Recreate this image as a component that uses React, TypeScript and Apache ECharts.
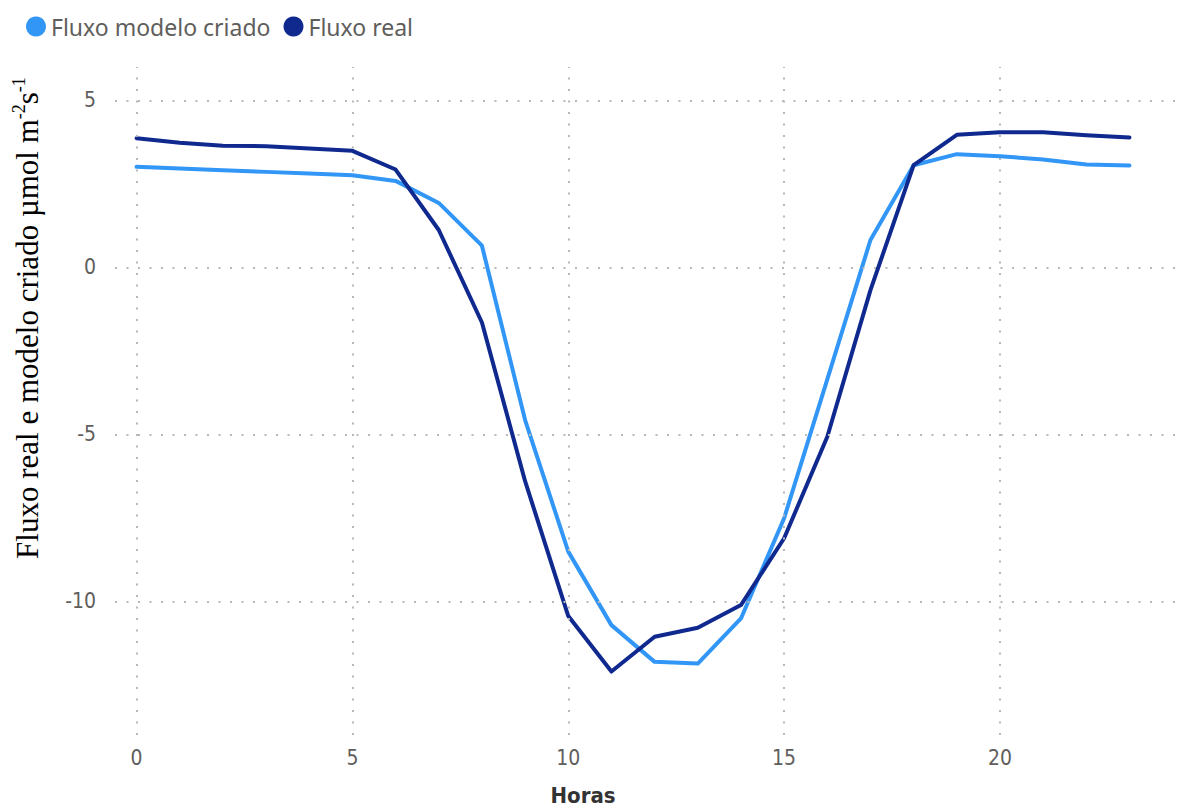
import React, { useEffect, useRef } from "react";
import * as echarts from "echarts";

const hours = [0, 1, 2, 3, 4, 5, 6, 7, 8, 9, 10, 11, 12, 13, 14, 15, 16, 17, 18, 19, 20, 21, 22, 23];
const fluxoModelo = [3.01, 2.96, 2.91, 2.86, 2.81, 2.76, 2.59, 1.93, 0.65, -4.57, -8.51, -10.71, -11.81, -11.86, -10.51, -7.51, -3.35, 0.82, 3.06, 3.39, 3.33, 3.23, 3.08, 3.05];
const fluxoReal = [3.87, 3.73, 3.64, 3.63, 3.56, 3.49, 2.93, 1.12, -1.65, -6.4, -10.44, -12.1, -11.06, -10.79, -10.11, -8.11, -5.07, -0.68, 3.06, 3.97, 4.05, 4.05, 3.96, 3.89];
const xTicks = [0, 5, 10, 15, 20];
const yTicks = [-10, -5, 0, 5];
const seriesNames = ["Fluxo modelo criado", "Fluxo real"];

export default function App() {
  const ref = useRef<HTMLDivElement>(null);
  useEffect(() => {
    if (!ref.current) return;
    const chart = echarts.init(ref.current, undefined, { renderer: "svg" });
    const tickFont = "'Liberation Sans Narrow', 'DejaVu Sans Condensed', Roboto, sans-serif";
    const gridStyle = { color: "#b8b8b8", width: 2, type: [2, 9.5] as any };
    chart.setOption({
      animation: false,
      backgroundColor: "#ffffff",
      legend: {
        left: 21,
        top: 10,
        icon: "circle",
        itemWidth: 20,
        itemHeight: 20,
        itemGap: 13,
        data: seriesNames,
        textStyle: { color: "#605E5C", fontSize: 23, fontFamily: "'Noto Sans', 'Open Sans', sans-serif" },
      },
      grid: { left: 115, right: 0, top: 67, bottom: 72, containLabel: false },
      xAxis: {
        type: "value",
        min: -0.5,
        max: 24.24,
        axisLine: { show: false },
        axisTick: { show: false },
        splitLine: { show: false },
        axisLabel: {
          showMinLabel: false,
          showMaxLabel: false,
          margin: 12,
          color: "#605E5C",
          fontSize: 21,
          fontFamily: tickFont,
          formatter: (v: number) => (xTicks.includes(v) ? String(v) : ""),
        },
      },
      yAxis: {
        type: "value",
        min: -14,
        max: 6,
        axisLine: { show: false },
        axisTick: { show: false },
        splitLine: { show: false },
        axisLabel: {
          showMinLabel: false,
          showMaxLabel: false,
          margin: 19,
          color: "#605E5C",
          fontSize: 21,
          fontFamily: tickFont,
          formatter: (v: number) => (yTicks.includes(v) ? String(v) : ""),
        },
      },
      graphic: [
        {
          type: "text",
          x: 27,
          y: 318,
          rotation: Math.PI / 2,
          style: {
            text: "Fluxo real e modelo criado µmol m{sup|-2}s{sup|-1}",
            fontFamily: "'Liberation Serif', 'Times New Roman', serif",
            fontSize: 31,
            fill: "#000000",
            align: "center",
            verticalAlign: "middle",
            rich: {
              sup: {
                fontSize: 18,
                fontFamily: "'Liberation Serif', 'Times New Roman', serif",
                fill: "#000000",
                verticalAlign: "top",
                lineHeight: 34,
              },
            },
          },
        },
        {
          type: "text",
          x: 583,
          y: 795,
          style: {
            text: "Horas",
            fontFamily: tickFont,
            fontWeight: "bold",
            fontSize: 22,
            fill: "#333333",
            align: "center",
            verticalAlign: "middle",
          },
        },
      ],
      series: [
        {
          name: "grid",
          type: "line",
          data: [],
          silent: true,
          z: 1,
          markLine: {
            silent: true,
            symbol: "none",
            label: { show: false },
            lineStyle: gridStyle,
            emphasis: { disabled: true },
            data: [
              ...yTicks.map((v) => ({ yAxis: v })),
              ...xTicks.map((v) => ({ xAxis: v })),
            ],
          },
        },
        {
          name: seriesNames[0],
          type: "line",
          z: 3,
          showSymbol: false,
          color: "#3196F6",
          lineStyle: { width: 4, color: "#3196F6", join: "round", cap: "round" },
          data: hours.map((h, i) => [h, fluxoModelo[i]]),
        },
        {
          name: seriesNames[1],
          type: "line",
          z: 4,
          showSymbol: false,
          color: "#10298F",
          lineStyle: { width: 4, color: "#10298F", join: "round", cap: "round" },
          data: hours.map((h, i) => [h, fluxoReal[i]]),
        },
      ],
    });
    return () => chart.dispose();
  }, []);
  return (
    <div
      ref={ref}
      style={{ position: "fixed", left: 0, top: 0, width: 1183, height: 807, background: "#fff" }}
    />
  );
}
